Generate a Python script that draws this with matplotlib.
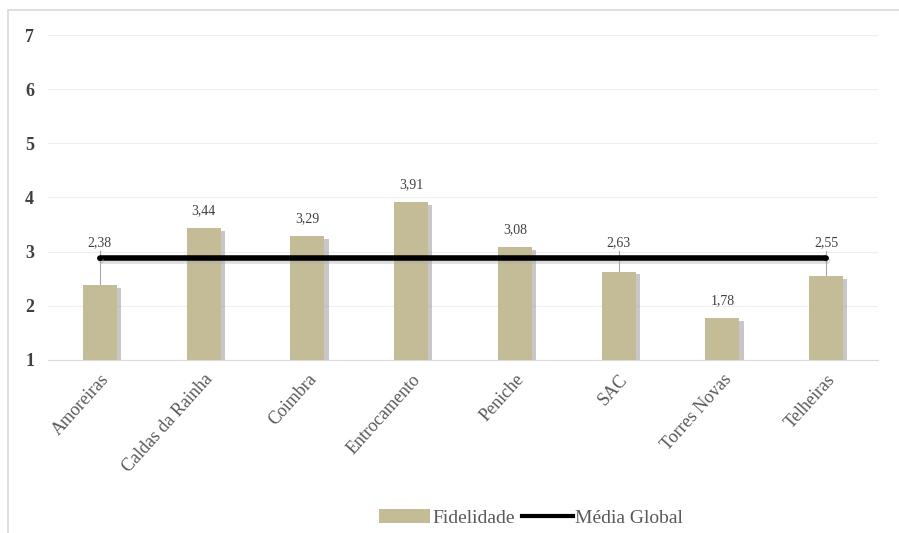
import matplotlib
matplotlib.use("Agg")
import matplotlib.pyplot as plt
import matplotlib.patheffects as pe
from matplotlib.patches import Rectangle
from matplotlib.lines import Line2D
from matplotlib.patches import Patch

categories = ["Amoreiras", "Caldas da Rainha", "Coimbra", "Entrocamento",
              "Peniche", "SAC", "Torres Novas", "Telheiras"]
fidelidade = [2.38, 3.44, 3.29, 3.91, 3.08, 2.63, 1.78, 2.55]
media_global = [2.88] * len(categories)
value_labels = ["2,38", "3,44", "3,29", "3,91", "3,08", "2,63", "1,78", "2,55"]
yticks = [1, 2, 3, 4, 5, 6, 7]

plt.rcParams['font.family'] = ['Liberation Serif', 'DejaVu Serif']

fig = plt.figure(figsize=(8.99, 5.33), dpi=100)
ax = fig.add_axes([48/899, 1 - 360/533, (878-48)/899, (360-35)/533])

bar_color = "#C4BC96"
x = list(range(len(categories)))
base = 1
heights = [v - base for v in fidelidade]
ax.bar(x, heights, bottom=base, width=0.33, color=bar_color, zorder=3,
       path_effects=[pe.SimplePatchShadow(offset=(3, -2), shadow_rgbFace="#999999", alpha=0.55),
                     pe.Normal()])

ax.plot(x, media_global, color="black", linewidth=4, zorder=4, solid_capstyle="butt",
        marker="o", markersize=3, markevery=[0, len(x) - 1],
        path_effects=[pe.SimpleLineShadow(offset=(1, -2), shadow_color="#AAAAAA", alpha=0.4), pe.Normal()])

# data labels
for i, (v, lab) in enumerate(zip(fidelidade, value_labels)):
    if v < media_global[i] and v > 2.2:
        ly = media_global[i] + 0.17
        ax.plot([i, i], [v, ly - 0.03], color="#A6A6A6", linewidth=0.8, zorder=2)
        ax.text(i, ly, lab, ha="center", va="bottom", fontsize=10, color="#404040", zorder=5)
    else:
        ax.text(i, v + 0.2, lab, ha="center", va="bottom", fontsize=10, color="#404040", zorder=5)

ax.set_xlim(-0.5, len(categories) - 0.5)
ax.set_ylim(1, 7)
ax.set_yticks(yticks)
ax.set_yticklabels([str(t) for t in yticks], fontsize=13, fontweight="bold", color="#404040")
ax.set_xticks(x)
ax.set_xticklabels(categories, rotation=48, ha="right", rotation_mode="anchor",
                   fontsize=13, color="#595959")
ax.tick_params(axis="y", length=0, pad=10)
ax.tick_params(axis="x", length=0, pad=8)

for s in ["top", "right", "left"]:
    ax.spines[s].set_visible(False)
ax.spines["bottom"].set_color("#D9D9D9")
ax.yaxis.grid(True, color="#EEEEEE", linewidth=0.8, zorder=0)
ax.set_axisbelow(True)

# figure frame
fig.patches.append(Rectangle((8/899, -0.01), 1.0, 1 - 10/533 + 0.01, transform=fig.transFigure,
                             fill=False, edgecolor="#D9D9D9", linewidth=1.2))

handles = [Patch(facecolor=bar_color, edgecolor="none"),
           Line2D([0], [0], color="black", linewidth=3)]
fig.legend(handles, ["Fidelidade", "Média Global"], loc="center", bbox_to_anchor=(531/899, 1 - 518/533),
           ncol=2, frameon=False, fontsize=14, handlelength=2.6, handleheight=0.7, columnspacing=0.4,
           handletextpad=0.1, labelcolor="#595959")

fig.savefig("out.png", dpi=100)
